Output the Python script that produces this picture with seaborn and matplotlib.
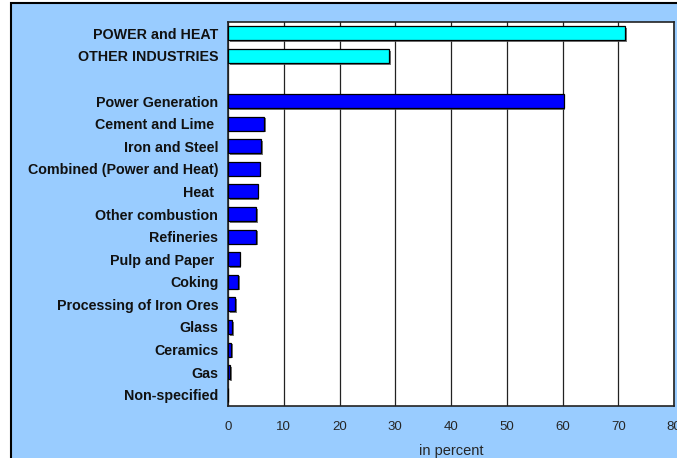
import matplotlib
matplotlib.use("Agg")
import matplotlib.pyplot as plt
import matplotlib.patheffects as pe
from matplotlib.patches import Rectangle
import seaborn as sns
import pandas as pd
import numpy as np

categories = ["POWER and HEAT", "OTHER INDUSTRIES", "",
              "Power Generation", "Cement and Lime ", "Iron and Steel",
              "Combined (Power and Heat)", "Heat ", "Other combustion",
              "Refineries", "Pulp and Paper ", "Coking",
              "Processing of Iron Ores", "Glass", "Ceramics", "Gas",
              "Non-specified"]
values = [71.2, 28.9, np.nan,
          60.2, 6.5, 5.9, 5.7, 5.3, 5.1, 5.0, 2.1, 1.85, 1.25, 0.8, 0.6, 0.35, 0.05]
groups = ["total", "total", "total"] + ["detail"] * 14
x_ticks = [0, 10, 20, 30, 40, 50, 60, 70, 80]

df = pd.DataFrame({"cat": categories, "val": values, "grp": groups})

sns.set_theme(style="white")
plt.rcParams['font.family'] = ['Liberation Sans', 'DejaVu Sans']

fig = plt.figure(figsize=(6.77, 4.58), dpi=100)
fig.patch.set_facecolor("white")
W, H = 677, 458
bg = Rectangle((11 / W, -0.1), 1.0, (H - 3) / H + 0.1, transform=fig.transFigure,
               facecolor="#99CCFF", edgecolor="black", linewidth=1.5, zorder=-10)
fig.patches.append(bg)

ax = fig.add_axes([228 / W, (H - 406) / H, (674 - 228) / W, (406 - 22) / H])
ax.set_facecolor("white")

sns.barplot(data=df, y="cat", x="val", hue="grp", order=categories,
            palette={"total": "#00FFFF", "detail": "#0000FF"}, saturation=1,
            dodge=False, legend=False, width=0.62, edgecolor="black",
            linewidth=0.9, ax=ax, zorder=3)

for p in ax.patches:
    p.set_path_effects([pe.SimplePatchShadow(offset=(1.2, -1.2), shadow_rgbFace="#555555", alpha=0.8),
                        pe.Normal()])

ax.set_xlim(0, 80)
ax.set_ylim(len(categories) - 0.5, -0.5)
ax.set_xticks(x_ticks)
ax.set_xticklabels([str(t) for t in x_ticks], fontsize=9.5)
ax.grid(axis="x", color="#222222", linewidth=0.9, zorder=0)
ax.set_axisbelow(True)

ax.set_yticks(range(len(categories)))
ax.set_yticklabels(categories, fontsize=10.3, fontweight="bold", color="#111111")
ax.tick_params(axis="y", which="major", length=0, pad=7)
ax.set_yticks(np.arange(-0.5, len(categories), 1), minor=True)
ax.tick_params(axis="y", which="minor", length=4, width=1, direction="out", color="#222222")
ax.tick_params(axis="x", which="major", length=3, width=1, direction="out", pad=8, color="#222222")

ax.set_ylabel("")
ax.set_xlabel("in percent", fontsize=10.5, labelpad=8)

for s in ax.spines.values():
    s.set_visible(True)
    s.set_color("#222222")
    s.set_linewidth(1.2)

fig.savefig("out.png", dpi=100)
